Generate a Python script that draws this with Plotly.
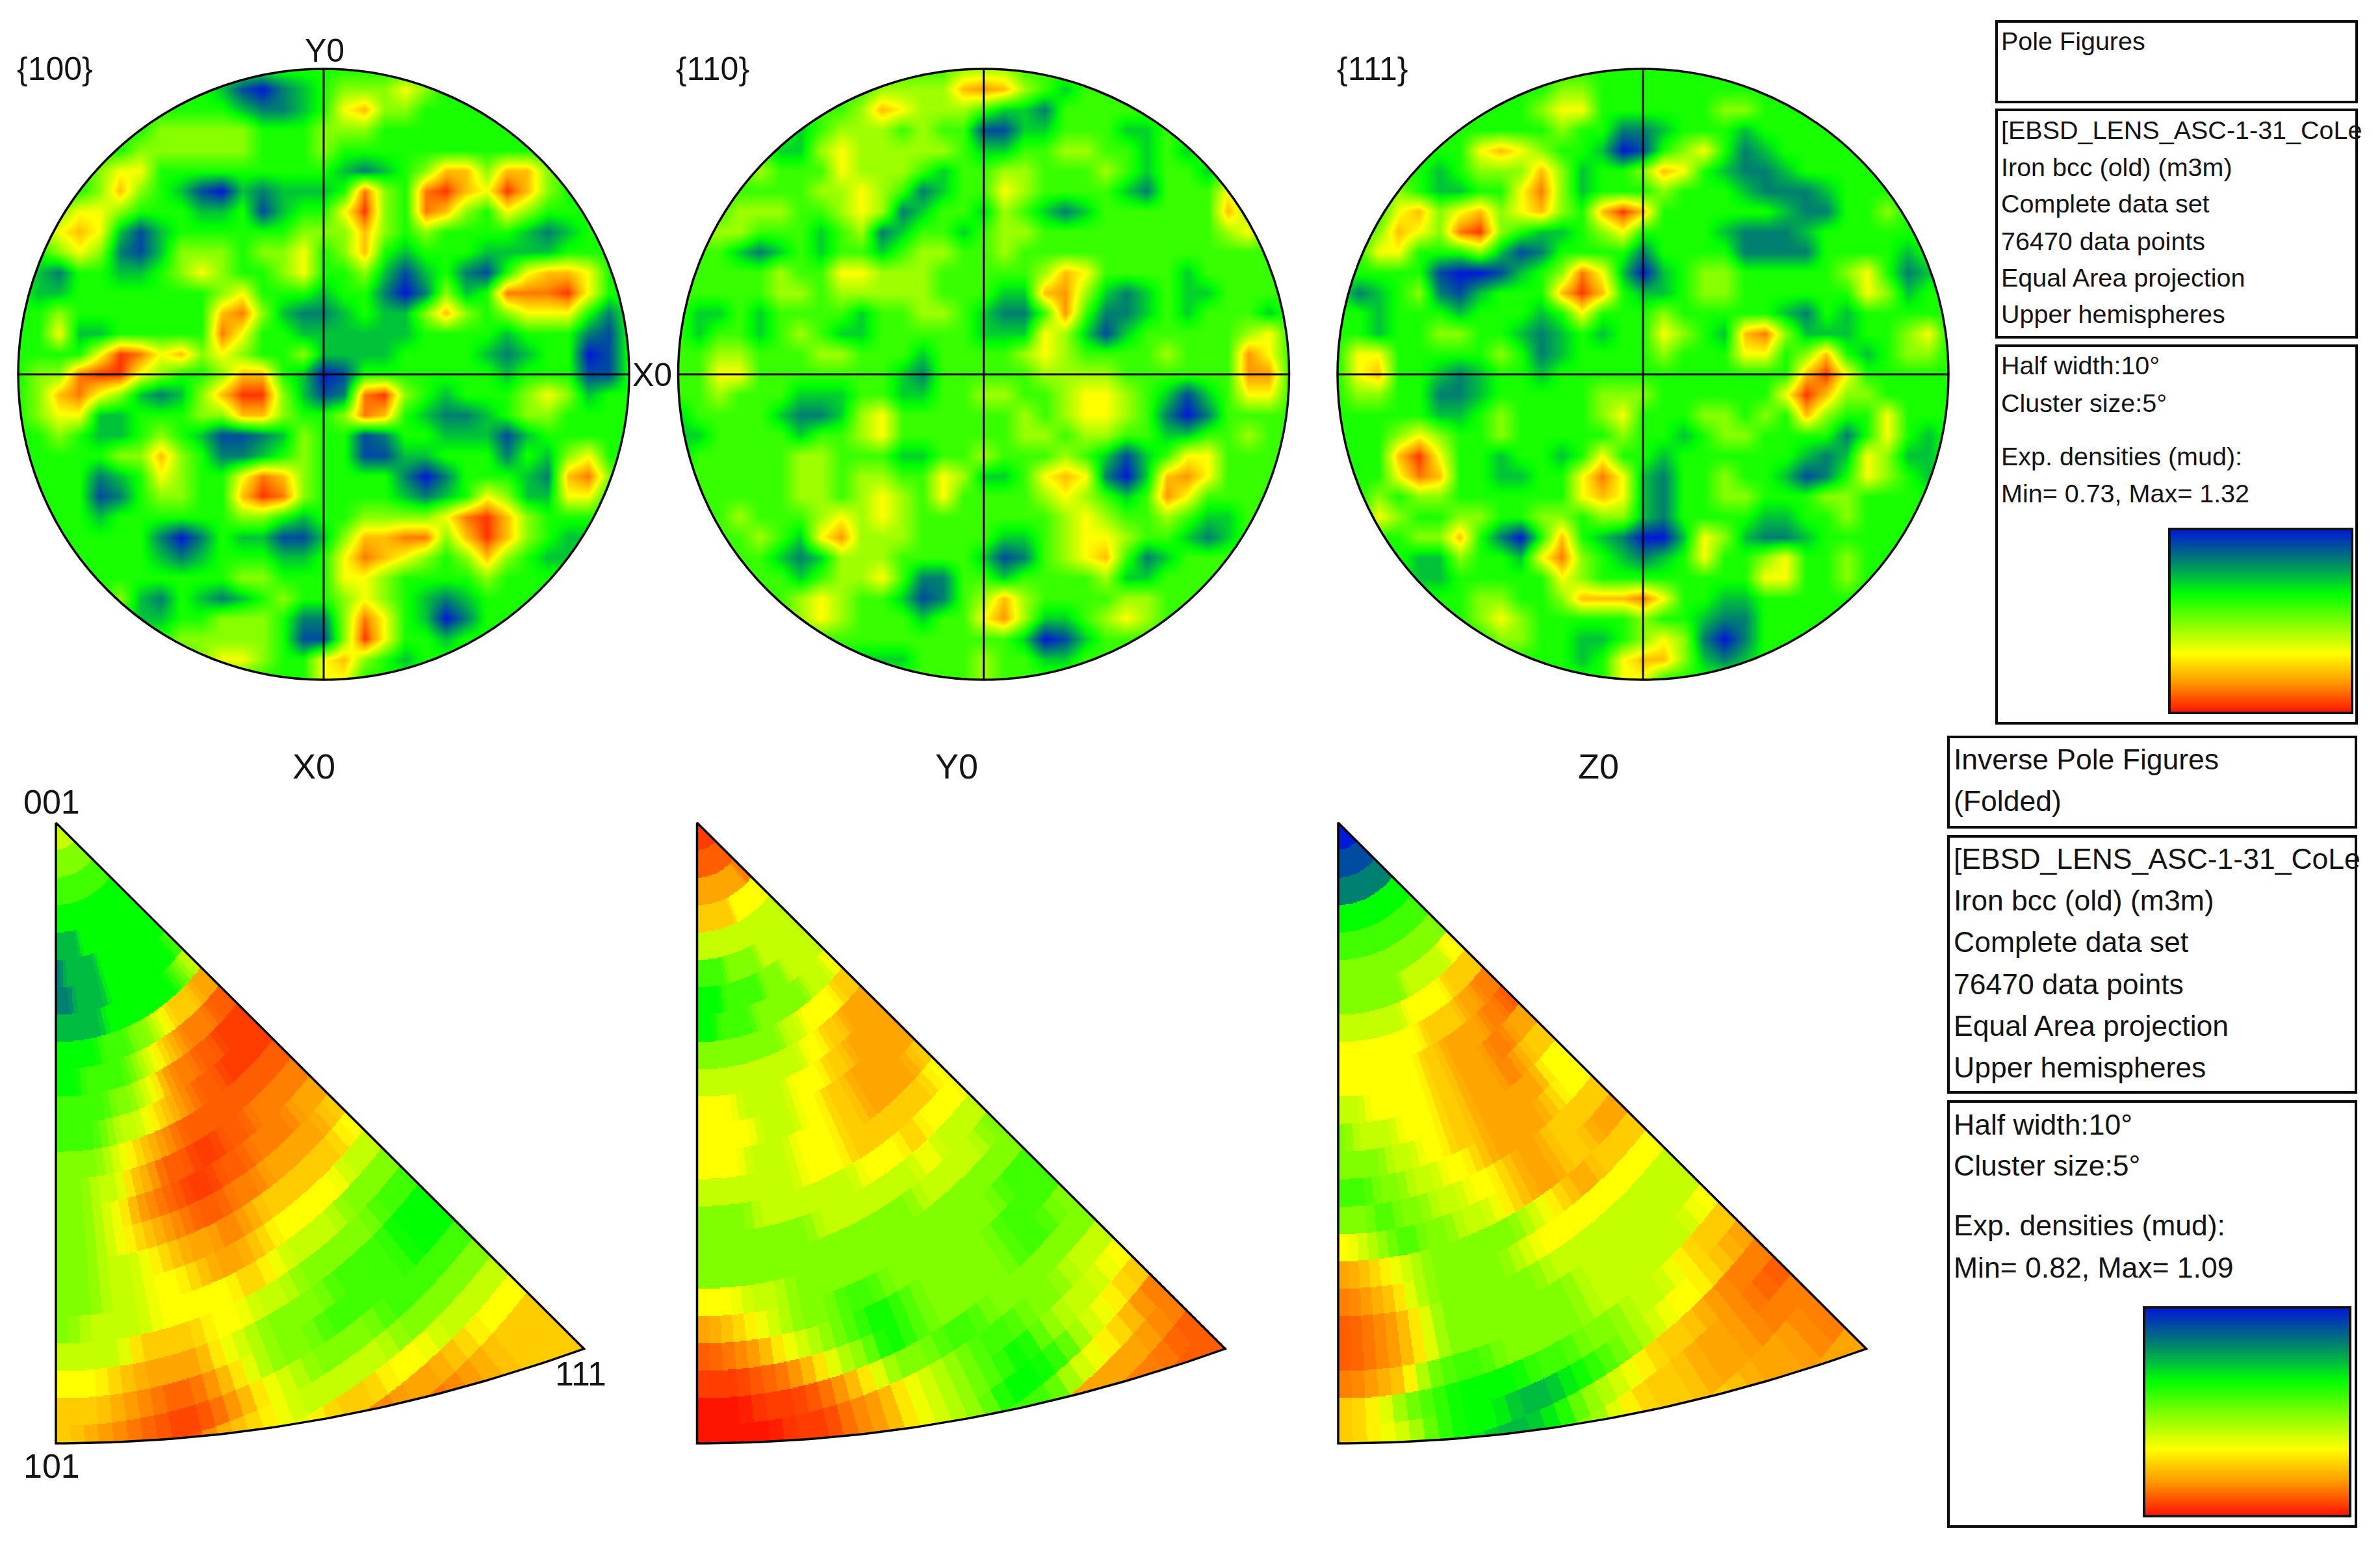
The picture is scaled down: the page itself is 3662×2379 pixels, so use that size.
import math
import numpy as np
import plotly.graph_objects as go

W, H = 3662, 2379

# ---- colour legend: position on the ramp, colour
RAMP_POS = [0.0, 0.085, 0.17, 0.26, 0.35, 0.51, 0.68, 0.84, 1.0]
RAMP_COL = ["#0018d8", "#004cA0", "#008070", "#00bc40", "#00ff00", "#80ff00", "#ffff00", "#ff9800", "#ff1400"]

# ---- density levels: digit (pole figures) / letter (inverse pole figures) -> ramp position
DIGIT_LEVEL = {"0": 0.0, "1": 0.085, "2": 0.17, "3": 0.27, "4": 0.38, "5": 0.52, "6": 0.67, "7": 0.78, "8": 0.88, "9": 0.96}
DIGIT_LEVEL_110 = {"0": 0.0, "1": 0.085, "2": 0.17, "3": 0.29, "4": 0.42, "5": 0.55, "6": 0.68, "7": 0.78, "8": 0.84, "9": 0.96}
LETTER_LEVEL = {"a": 0.0, "b": 0.085, "c": 0.17, "d": 0.26, "e": 0.35, "f": 0.43, "g": 0.51, "h": 0.60,
                "i": 0.68, "j": 0.76, "k": 0.82, "l": 0.87, "m": 0.91, "n": 0.95, "o": 1.0}

PF_MIN, PF_MAX = 0.73, 1.32
IPF_MIN, IPF_MAX = 0.82, 1.09

PF100 = [
"4444444444 4444444444 4444444444 4",
"4444444444 3102345556 5444444444 4",
"4444444444 4322346755 4444444444 4",
"4444444555 5544455544 4444444444 4",
"4444445555 5544454444 4444444444 4",
"4444566444 4444443234 5775775444 4",
"4444575431 0323334854 8976975444 4",
"4456654443 3413446954 8754654444 4",
"4567631344 4444555754 5444432344 4",
"4456521355 5455645743 4443333444 4",
"4324433456 5445644531 3421467764 4",
"4334444444 5644434420 2534888964 4",
"4454444444 7853223433 5754566642 4",
"4463344444 8644333333 4444344421 4",
"4444698675 6544533334 4443234401 4",
"4558996544 5774301444 4444344411 4",
"4578653235 7995312895 4344456534 4",
"4566334445 5775445874 3223455444 4",
"4454334543 1123544124 4333134444 4",
"4444455754 2234544113 3444243564 4",
"4444234654 4687544442 0244432785 4",
"4444124554 4798544443 2346533664 4",
"4444344444 4554344555 5689754444 4",
"4444444202 4331135778 8579754334 4",
"4444444323 4443346876 5457543344 4",
"4444444444 4554446654 4445444444 4",
"4444453243 2345445654 3234444444 4",
"4444443344 5554225864 3024444444 4",
"4444444455 5554115964 4344444444 4",
"4444444445 6654467543 4444444444 4",
"4444444444 4444466444 4444444444 4",
]
PF110 = [
"4444444444 4444555444 4444444444 4",
"4444444444 5555787543 4444444444 4",
"4444444445 7655543324 4444444444 4",
"4444443455 5454411334 4433444444 4",
"4444433565 5555433445 5443434444 4",
"4444544465 5543445544 4543443444 4",
"4444444556 5423446544 4432444644 4",
"4445554456 5234435432 3444444754 4",
"4555444345 2344345544 4444444564 4",
"4443234344 3455445444 4444444444 4",
"4444454466 5554444457 6444434444 4",
"4444455455 5554443378 5323433444 4",
"4334344443 4455432248 4223434443 4",
"4344345433 4444433365 3134444456 4",
"4455444554 4434444565 4444544486 4",
"4466444444 4324444455 5544444488 4",
"4454443334 4334455445 6654313466 4",
"3444432235 6444444545 6654202444 4",
"3344443445 6444444554 5544334454 4",
"3444445544 4334454445 4313466444 4",
"4444445545 5446533467 6203786444 4",
"4444445545 6546444456 5434864444 4",
"4445444565 6544444445 6544543344 4",
"4444543685 5544443345 6654432344 4",
"4444432355 5444431245 6742344444 4",
"4444443455 6422443444 4533444444 4",
"4444445654 4312457544 4455444444 4",
"4444445654 4434468533 4565444444 4",
"4444444444 4444444301 3444444444 4",
"4444444443 3344454433 4444444444 4",
"4444444444 4444454444 4444444444 4",
]
PF111 = [
"4444444444 4444444444 4444444444 4",
"4444444444 4554444444 4444444444 4",
"4444444444 5664444445 5444444444 4",
"4444444444 4544223444 3444444444 4",
"4444444676 5443014564 2344444444 4",
"4444434555 7534457643 2234444444 4",
"4445433446 8534445444 3222344444 4",
"4446756756 7547974444 4432244544 4",
"4457658954 3345644443 2223444444 4",
"4466444531 2444424444 2222444434 4",
"4444410013 4586303455 4444456423 4",
"4234521344 4797433455 4444446534 4",
"4434443444 3464445444 4432434444 4",
"4434455443 2343446543 7853334456 4",
"4664444454 2344445444 6645743455 4",
"4674432344 3444444444 4447964444 4",
"4554422344 4445554444 4469755444 4",
"4444433454 4445644455 4547544644 4",
"4445654454 4444544345 5444424643 4",
"4447964434 4346443444 4443236533 4",
"4446874433 4468632445 4431246543 4",
"4454554444 4467632445 5444554444 4",
"4465445544 5545532444 4334454444 4",
"4444557420 4743200365 3223444444 4",
"4444335443 6854323464 4564454444 4",
"4444334444 4654444444 4664454444 4",
"4444444554 4577786443 3444444444 4",
"4444444565 4444454432 2444444444 4",
"4444444455 4433456520 2444444444 4",
"4444444444 4434677532 3444444444 4",
"4444444444 4444664444 4444444444 4",
]

# inverse pole figures: one row per 5-degree ring round the 001 corner, one letter per sector
IPF_X0 = [
"hhhhhhhhhhhhhhhh","gggggggggggggggg","ffffffffffffffff","eeeeeeeeeeeeeeee","ddddeeeeeeeeeeee",
"cdddddeeeeeeeeee","ccddddeeeeeeeeef","dddddeeeeeeeefgh","eeeefffgghijjjkk","eeffffghijklllmm",
"ffffgghikllmmnnn","fffghhijklmmnnnn","ggghijklmmmmmmmm","gghhjkmmnnmmllll","gghiklmnnmmlllkk",
"gghijklmmllkkkkj","gghhijkklkjjjjji","gghhiijkkjiiiihh","ghhhiiiijihhhggg","hhhjjjiihhggggff",
"iijkkkihgggfffee","jjklmljhggffffee","jklmnmkihgggffff","nnnnnkjihhhhgggg","hhhhhhhhijjiihhh",
"kkkkkkkkkllkkjii","lllllllllllmlkjj","kkkkkkkkkkkkkkjj","jjjjjjjjjjjjjjjj",
]
IPF_Y0 = [
"nnnnnnnnnnnnnnnn","mmmmmmmmmmmmmmmm","kkkkkkkkkkkkkkll","jjjjjjjjiiiiiiii","hhhhhhhhhhhhhhhh",
"ffffggggghhhhhhh","eeefffffggghhhhh","eeffffgggggghhhi","gggggggghhiiiijj","hhhhhhhhhiijjkkk",
"iiihhhhiiijjkkkk","iiiihhhiijjkkkkk","iiihhhiiijjkkkkj","hhhhhhiiijjjjjji","ggghhhhhhiiijiii",
"gggggghhhhhhihhh","ggggggggggghhhhg","iihhgggggggggggg","kjihggffggggggff","mlkihgfefggggfff",
"nnmljhgefggggffg","oonnmkiggffggggg","ooonnlkihgffgghh","oooonlkihgfeghhi","iiiiiiiihgeefhij",
"ggggggggggffhijl","kkkkkkkkkkkkkkkl","lllllllllllllllm","mmmmmmmmmmmmmmmm",
]
IPF_Z0 = [
"aaaaaaaaaaaaaaaa","bbbbbbbbbbbbbbbb","cccccccccccccccc","eeeeeeeeeeeeeeee","ffffffffffffffff",
"gggggggggggggggg","gggggggghhhhhhii","hhhhhhhiiiiijjjj","iiiiiiiijjjjkkll","iiiiiiijjkkkkllm",
"hhiiiiijjkkkllkk","ghhhiiijjkkklkjj","ggghhiijjkkkkkii","ffgghhiijkkkkjii","ggfgghhiijkkjjjj",
"ihgfgghhijkkjjkk","kjihggggghijkjjj","lkjhgggghiiiiiii","mlkiggggghhhhhhh","mlkigggggghhhhhh",
"lkjgffgggghhhhhi","jigfeeeffgghhijj","jihfeeddefghiijk","hhhheddeghijjkll","gggggggggijjkklm",
"iiiiiiiiiijjkkll","jjjjjjjjjjjjjkkl","kkkkkkkkkkkkkkkl","kkkkkkkkkkkkkkkk",
]

PANEL_LINES_1 = ["Pole Figures"]
PANEL_LINES_2 = ["[EBSD_LENS_ASC-1-31_CoLe", "Iron bcc (old) (m3m)", "Complete data set", "76470 data points",
                 "Equal Area projection", "Upper hemispheres"]
PANEL_LINES_3A = ["Half width:10°", "Cluster size:5°", "Exp. densities (mud):", "Min= 0.73, Max= 1.32"]
PANEL_LINES_3B = ["Half width:10°", "Cluster size:5°", "Exp. densities (mud):", "Min= 0.82, Max= 1.09"]
IPF_PANEL_TITLE = ["Inverse Pole Figures", "(Folded)"]

# ---- layout (pixels of the page)
DISKS = [(PF100, DIGIT_LEVEL, 498, 576, 470), (PF110, DIGIT_LEVEL_110, 1513.5, 576, 470), (PF111, DIGIT_LEVEL, 2528, 576, 470)]
TRI_TOP, TRI_BOTTOM, TRI_WIDTH = 1266, 2221, 812.5
TRIS = [(IPF_X0, 86), (IPF_Y0, 1072.5), (IPF_Z0, 2059)]
PER_W, PER_H, PER_CURVE = 1273.0, 1313.0, 200.0 / 1273.0 ** 2  # triangle proportions in ring units
RING = 58.0
SECTORS = 16
SECTOR_DEG = 48.8 / SECTORS

stops = [[p, c] for p, c in zip(RAMP_POS, RAMP_COL)]

fig = go.Figure()
shapes = []
annots = []


def level_grid(rows, table):
    return np.array([[table[ch] for ch in row.replace(" ", "")] for row in rows], dtype=float)


def text(x, y, s, size, anchor="left"):
    annots.append(dict(x=x, y=y, xref="x", yref="y", text=s, showarrow=False, xanchor=anchor, yanchor="middle",
                       font=dict(family="Liberation Sans", size=size, color="#141414"), align="left"))


for rows, levels, cx, cy, R in DISKS:
    lv = level_grid(rows, levels)
    z = PF_MIN + lv * (PF_MAX - PF_MIN)
    n = lv.shape[0]
    step = 2 * R / (n - 1)
    fig.add_trace(go.Heatmap(z=z, x0=cx - R, dx=step, y0=cy - R, dy=step, zmin=PF_MIN, zmax=PF_MAX,
                             colorscale=stops, showscale=False, zsmooth="best", hoverinfo="skip"))
    pad = 6
    ang = np.linspace(0, 2 * math.pi, 241)[:-1]
    hole = " ".join(("M" if i == 0 else "L") + f"{cx + R * math.cos(a):.2f},{cy + R * math.sin(a):.2f}"
                    for i, a in enumerate(ang)) + " Z"
    square = (f"M{cx - R - step - pad},{cy - R - step - pad} L{cx + R + step + pad},{cy - R - step - pad} "
              f"L{cx + R + step + pad},{cy + R + step + pad} L{cx - R - step - pad},{cy + R + step + pad} Z")
    shapes.append(dict(type="path", path=square + " " + hole, xref="x", yref="y", fillcolor="white",
                       line=dict(width=0), layer="above", fillrule="evenodd"))
    shapes.append(dict(type="circle", xref="x", yref="y", x0=cx - R, x1=cx + R, y0=cy - R, y1=cy + R,
                       line=dict(color="#0a0a0a", width=3.5), layer="above"))
    shapes.append(dict(type="line", xref="x", yref="y", x0=cx - R, x1=cx + R, y0=cy, y1=cy,
                       line=dict(color="#0a0a0a", width=3), layer="above"))
    shapes.append(dict(type="line", xref="x", yref="y", x0=cx, x1=cx, y0=cy - R, y1=cy + R,
                       line=dict(color="#0a0a0a", width=3), layer="above"))

for rows, x0 in TRIS:
    lv = level_grid(rows, LETTER_LEVEL)
    step = 2.0
    xs = np.arange(x0, x0 + TRI_WIDTH + step, step)
    ys = np.arange(TRI_TOP, TRI_BOTTOM + step, step)
    gx, gy = np.meshgrid(xs, ys)
    px_ = (gx - x0) / TRI_WIDTH * PER_W
    py_ = (gy - TRI_TOP) / (TRI_BOTTOM - TRI_TOP) * PER_H
    r = np.hypot(px_, py_)
    th = np.degrees(np.arctan2(px_, py_))
    ring = np.clip((r / RING).astype(int), 0, lv.shape[0] - 1)
    # cells are drawn at twice the sector count: half-way cells show the mean of their two neighbours,
    # the soft blend between sectors that the reference has
    half = np.clip((th / (SECTOR_DEG / 2)).astype(int), 0, 2 * SECTORS - 1)
    pos = (half + 0.5) / 2 - 0.5
    s0 = np.clip(np.floor(pos).astype(int), 0, SECTORS - 1)
    s1 = np.clip(s0 + 1, 0, SECTORS - 1)
    w = np.clip(pos - s0, 0, 1)
    level = lv[ring, s0] * (1 - w) + lv[ring, s1] * w
    z = IPF_MIN + level * (IPF_MAX - IPF_MIN)
    inside = (py_ <= PER_H - PER_CURVE * px_ ** 2) & (th <= 48.92)
    z = np.where(inside, z, np.nan)
    fig.add_trace(go.Heatmap(z=z, x=xs, y=ys, zmin=IPF_MIN, zmax=IPF_MAX, colorscale=stops, showscale=False,
                             zsmooth=False, hoverinfo="skip"))
    # triangle outline: left edge, hypotenuse and the curved lower side
    t = np.linspace(0, 1, 60)
    arc_x = x0 + TRI_WIDTH * t
    arc_y = TRI_TOP + (PER_H - PER_CURVE * (PER_W * t) ** 2) / PER_H * (TRI_BOTTOM - TRI_TOP)
    ox = [x0] + list(arc_x) + [x0]
    oy = [TRI_TOP] + list(arc_y) + [TRI_TOP]
    fig.add_trace(go.Scatter(x=ox, y=oy, mode="lines", line=dict(color="#050505", width=3.5), hoverinfo="skip",
                             showlegend=False))


# ---- side panels
def box(x0, x1, y0, y1):
    shapes.append(dict(type="rect", xref="x", yref="y", x0=x0, x1=x1, y0=y0, y1=y1,
                       line=dict(color="#0a0a0a", width=4), layer="above"))


box(3072, 3626, 33, 157)
box(3072, 3626, 169, 519)
box(3072, 3626, 532, 1113)
box(2998, 3625, 1134, 1273)
box(2998, 3625, 1287, 1681)
box(2998, 3625, 1695, 2349)

TX1, TX2 = 3077, 3004
for s, y in zip(PANEL_LINES_1, [63]):
    text(TX1, y, s, 39.5)
for s, y in zip(PANEL_LINES_2, [200, 257, 313, 371, 427, 483]):
    text(TX1, y, s, 39.5)
for s, y in zip(PANEL_LINES_3A, [562, 620, 702, 759]):
    text(TX1, y, s, 39.5)
for s, y in zip(IPF_PANEL_TITLE, [1168, 1232]):
    text(TX2, y, s, 44.5)
for s, y in zip(PANEL_LINES_2, [1321, 1385, 1449, 1514, 1578, 1642]):
    text(TX2, y, s, 44.5)
for s, y in zip(PANEL_LINES_3B, [1730, 1793, 1885, 1950]):
    text(TX2, y, s, 44.5)

# colour legends
RAMP_ROWS = 120
for (lx0, lx1, ly0, ly1, zmin, zmax) in [(3338, 3619, 814, 1097, PF_MIN, PF_MAX),
                                         (3299, 3616, 2012, 2333, IPF_MIN, IPF_MAX)]:
    ramp = np.linspace(zmin, zmax, RAMP_ROWS).reshape(-1, 1)
    fig.add_trace(go.Heatmap(z=ramp, x=[lx0, lx1], y=np.linspace(ly0, ly1, RAMP_ROWS + 1), zmin=zmin, zmax=zmax,
                             colorscale=stops, showscale=False, zsmooth=False, hoverinfo="skip"))
    shapes.append(dict(type="rect", xref="x", yref="y", x0=lx0, x1=lx1, y0=ly0, y1=ly1,
                       line=dict(color="#141414", width=4), layer="above"))

# ---- figure labels
text(24, 106, "{100}", 50)
text(1038, 106, "{110}", 50)
text(2055, 106, "{111}", 50)
text(499, 78, "Y0", 50, "center")
text(1003, 577, "X0", 50, "center")
text(483, 1179, "X0", 54, "center")
text(1472, 1179, "Y0", 54, "center")
text(2459, 1179, "Z0", 54, "center")
text(79, 1234, "001", 52, "center")
text(79, 2256, "101", 52, "center")
text(893, 2114, "111", 52, "center")

fig.update_layout(
    width=W, height=H, margin=dict(l=0, r=0, t=0, b=0), paper_bgcolor="white", plot_bgcolor="white",
    xaxis=dict(range=[0, W], visible=False, fixedrange=True),
    yaxis=dict(range=[H, 0], visible=False, fixedrange=True),
    showlegend=False, shapes=shapes, annotations=annots,
)
fig.write_html("out.html", config=dict(displayModeBar=False),
               post_script="document.body.style.margin='0';")
